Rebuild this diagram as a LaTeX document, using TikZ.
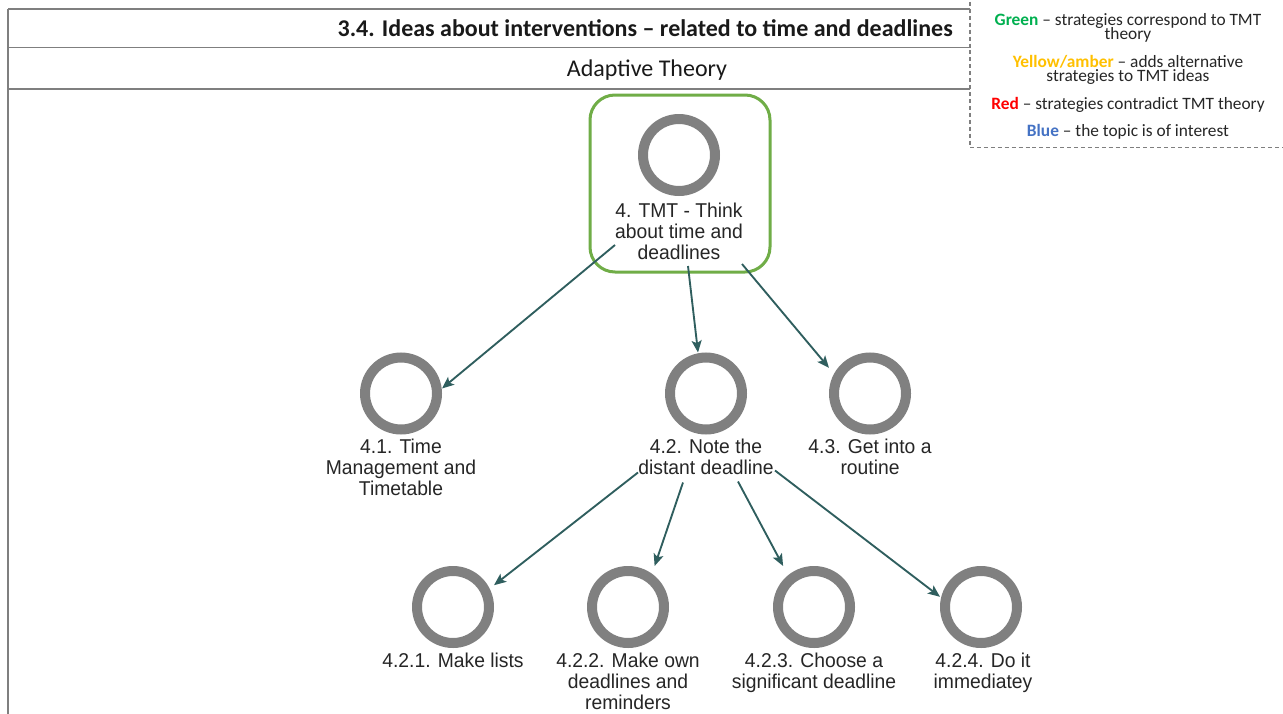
\documentclass[tikz,border=0pt]{standalone}
\usepackage{fontspec}
\setmainfont{Carlito}
\newfontfamily\nodefont[FakeStretch=0.965]{Liberation Sans}
\usetikzlibrary{arrows.meta,calc}

\definecolor{ringgray}{HTML}{808080}
\definecolor{rulegray}{HTML}{7F7F7F}
\definecolor{linkteal}{HTML}{2F5E5E}
\definecolor{framegreen}{HTML}{70AD47}
\definecolor{keygreen}{HTML}{00B050}
\definecolor{keyamber}{HTML}{FFC000}
\definecolor{keyred}{HTML}{FF0000}
\definecolor{keyblue}{HTML}{4472C4}

% tight line spacing for the colour key
\newcommand\keyfont{\fontsize{13}{10.5}\selectfont\lineskiplimit=-1000pt\relax}
\newcommand\labelfont{\nodefont\fontsize{15}{15.75}\selectfont}

\begin{document}
\begin{tikzpicture}[x=0.75pt,y=-0.75pt,
  ring/.style={rectangle, inner sep=0pt, outer sep=0pt, minimum size=61.5pt,
    path picture={\draw[ringgray, line width=7.5pt]
      (path picture bounding box.center) circle[radius=27pt];}},
  lbl/.style={font=\labelfont, align=center,
    inner sep=0pt, anchor=north, text=black!85},
  link/.style={draw=linkteal, line width=1.4pt,
    -{Stealth[length=9pt,width=7.5pt,inset=2pt]}},
  rule/.style={draw=rulegray, line width=1.3pt},
  keytext/.style={font=\keyfont, align=center, inner sep=0pt, text=black!85}]

\useasboundingbox (0,0) rectangle (1283,714);
\fill[white] (0,0) rectangle (1283,714);

% header frame
\draw[rule] (8,9) -- (970,9);
\draw[rule] (8,47.5) -- (970,47.5);
\draw[rule] (8,89) -- (970,89);
\draw[rule] (8,9) -- (8,714);

\node[font=\bfseries\fontsize{18}{20}\selectfont, inner sep=0pt, anchor=base east, text=black!90]
  (title) at (953,36) {3.4. Ideas about interventions -- related to time and deadlines};
\node[font=\fontsize{18}{20}\selectfont, inner sep=0pt, anchor=base, text=black!90]
  (subtitle) at (647,76) {Adaptive Theory};

% colour key
\draw[draw=rulegray, line width=0.8pt, dash pattern=on 3pt off 2.2pt]
  (970,-5) rectangle (1290,147.5);
\node[keytext, anchor=north] (kgreen) at (1128,13)
  {\textcolor{keygreen}{\textbf{Green}} -- strategies correspond to TMT\\theory};
\node[keytext, anchor=north] (kamber) at (1128,55)
  {\textcolor{keyamber}{\textbf{Yellow/amber}} -- adds alternative\\strategies to TMT ideas};
\node[keytext, anchor=base] (kred) at (1128,109)
  {\textcolor{keyred}{\textbf{Red}} -- strategies contradict TMT theory};
\node[keytext, anchor=base] (kblue) at (1128,136.5)
  {\textcolor{keyblue}{\textbf{Blue}} -- the topic is of interest};

% highlighted root
\node[draw=framegreen, line width=2.25pt, rounded corners=18.75pt,
  minimum width=135pt, minimum height=132.75pt, inner sep=0pt]
  (frame) at (680,183.5) {};

% rings
\node[ring] (c4)   at (679,155) {};
\node[ring] (c41)  at (401,393.5) {};
\node[ring] (c42)  at (706,393.5) {};
\node[ring] (c43)  at (870,393.5) {};
\node[ring] (c421) at (453,607) {};
\node[ring] (c422) at (628,607) {};
\node[ring] (c423) at (814,607) {};
\node[ring] (c424) at (981,607) {};

% labels
\node[lbl] (t4)   at (679,203) {4. TMT - Think\\about time and\\deadlines};
\node[lbl] (t41)  at (401,439) {4.1. Time\\Management and\\Timetable};
\node[lbl] (t42)  at (706,439) {4.2. Note the\\distant deadline};
\node[lbl] (t43)  at (870,439) {4.3. Get into a\\routine};
\node[lbl] (t421) at (453,653) {4.2.1. Make lists};
\node[lbl] (t422) at (628,653) {4.2.2. Make own\\deadlines and\\reminders};
\node[lbl] (t423) at (814,653) {4.2.3. Choose a\\significant deadline};
\node[lbl] (t424) at (983,653) {4.2.4. Do it\\immediatey};

% links
\draw[link] ($(c4.center)+(-64,90)$) -- (c41.7);
\draw[link] ($(c4.center)+(9,111)$) -- (c42.101);
\draw[link] ($(c4.center)+(63,109)$) -- (c43.148);
\draw[link] ($(c42.center)+(-68,79)$) -- (c421.28);
\draw[link] ($(c42.center)+(-23,89)$) -- (c422.57);
\draw[link] ($(c42.center)+(32,88)$) -- (c423.127);
\draw[link] ($(c42.center)+(69,77)$) -- (c424.166);

\end{tikzpicture}
\end{document}
